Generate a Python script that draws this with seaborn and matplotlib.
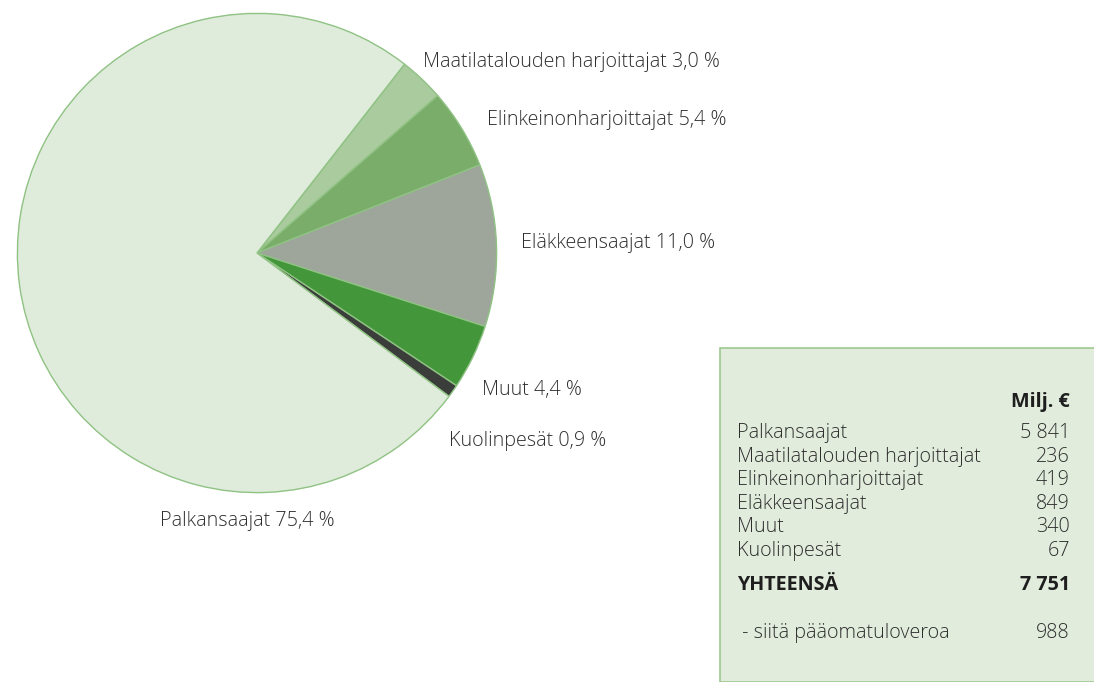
import matplotlib.pyplot as plt
import seaborn as sns

# data
groups = ['Palkansaajat', 'Maatilatalouden harjoittajat', 'Elinkeinonharjoittajat',
          'Eläkkeensaajat', 'Muut', 'Kuolinpesät']
values = [5841, 236, 419, 849, 340, 67]
total_label = 'YHTEENSÄ'
total_value = '7 751'
capital_label = ' - siitä pääomatuloveroa'
capital_value = '988'
value_labels = ['5 841', '236', '419', '849', '340', '67']
pct_labels = ['75,4 %', '3,0 %', '5,4 %', '11,0 %', '4,4 %', '0,9 %']

colors = ['#dfecdb', '#a9cb9d', '#79ad69', '#9ea69b', '#43963a', '#3a3d3a']

sns.set_theme(style='white')
plt.rcParams['font.family'] = ['Open Sans', 'DejaVu Sans']
txt = '#2e2e2e'
fs = 14.2
light = 300

fig = plt.figure(figsize=(10.94, 6.82), dpi=100)
W, H = 1094, 682

# pie centred at (257, 253) px, radius 242 px
cx, cy, r = 257, 253, 242
ax = fig.add_axes([(cx - r) / W, (H - cy - r) / H, 2 * r / W, 2 * r / H])
order = [1, 2, 3, 4, 5, 0]
ax.pie([values[i] for i in order], colors=[colors[i] for i in order],
       startangle=52, counterclock=False, radius=1,
       wedgeprops=dict(edgecolor='#8fc283', linewidth=1.0))
ax.set_xlim(-1.01, 1.01)
ax.set_ylim(-1.01, 1.01)
ax.set_aspect('equal')
ax.axis('off')

# slice labels (pixel positions of text left edge / vertical centre)
label_pos = {
    0: (160, 521), 1: (423, 62), 2: (487, 120), 3: (521, 243), 4: (482, 390), 5: (449, 441),
}
for i, (px, py) in label_pos.items():
    fig.text(px / W, 1 - py / H, f'{groups[i]} {pct_labels[i]}', ha='left', va='center',
             fontsize=fs, fontweight=light, color=txt)

# table box
box = plt.Rectangle((720 / W, 0), 1, 1 - 348 / H, transform=fig.transFigure,
                    facecolor='#e1ecdc', edgecolor='#9dc890', linewidth=1.2, zorder=0)
fig.patches.append(box)

xl, xr = 737 / W, 1070 / W
fig.text(xr, 1 - 402 / H, 'Milj. €', ha='right', va='center', fontsize=fs,
         fontweight='bold', color='#1e1e1e')
for k, (g, v) in enumerate(zip(groups, value_labels)):
    y = 1 - (433 + 23.6 * k) / H
    fig.text(xl, y, g, ha='left', va='center', fontsize=fs, fontweight=light, color=txt)
    fig.text(xr, y, v, ha='right', va='center', fontsize=fs, fontweight=light, color=txt)
fig.text(xl, 1 - 585 / H, total_label, ha='left', va='center', fontsize=fs,
         fontweight='bold', color='#1e1e1e')
fig.text(xr, 1 - 585 / H, total_value, ha='right', va='center', fontsize=fs,
         fontweight='bold', color='#1e1e1e')
fig.text(xl, 1 - 633 / H, capital_label, ha='left', va='center', fontsize=fs,
         fontweight=light, color=txt)
fig.text(xr, 1 - 633 / H, capital_value, ha='right', va='center', fontsize=fs,
         fontweight=light, color=txt)

fig.savefig('out.png', dpi=100)
